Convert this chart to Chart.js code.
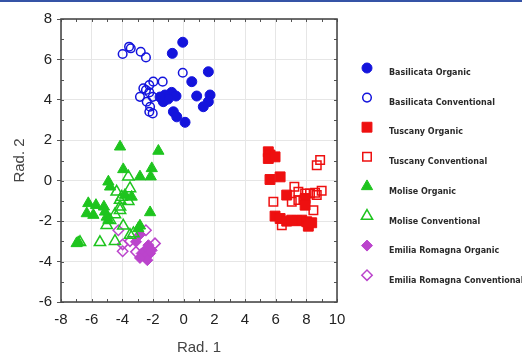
<!DOCTYPE html>
<html>
<head>
<meta charset="utf-8">
<script src="https://cdn.jsdelivr.net/npm/chart.js@4/dist/chart.umd.min.js"></script>
<style>
  html, body { margin: 0; padding: 0; background: #fff; }
  #wrap { position: relative; width: 522px; height: 355px; }
  #topline { position: absolute; left: 0; top: 0; width: 522px; height: 2px; background: #3553a6; }
  canvas { display: block; }
</style>
</head>
<body>
<div id="wrap">
  <canvas id="c" width="522" height="355"></canvas>
  <div id="topline"></div>
</div>
<script>
// ---- data ----
const seriesNames = [
  "Basilicata Organic", "Basilicata Conventional",
  "Tuscany Organic", "Tuscany Conventional",
  "Molise Organic", "Molise Conventional",
  "Emilia Romagna Organic", "Emilia Romagna Conventional"
];

const basOrgX = [-0.06, -0.74, 1.61, 0.53, -0.78, -1.22, -1.33, -0.5, 0.85, 1.72, 1.61, 1.28, -0.67, -0.45, 0.09, -1.02, -1.54];
const basOrgY = [6.85, 6.30, 5.39, 4.90, 4.37, 4.24, 3.91, 4.19, 4.19, 4.24, 3.91, 3.66, 3.41, 3.16, 2.89, 4.04, 4.14];

const basConvX = [-3.98, -3.56, -3.45, -2.80, -2.46, -0.06, -1.37, -1.98, -2.24, -2.63, -2.46, -2.85, -2.24, -2.02, -2.41, -2.19, -2.24, -2.02];
const basConvY = [6.27, 6.63, 6.55, 6.38, 6.10, 5.34, 4.90, 4.90, 4.73, 4.57, 4.49, 4.15, 4.37, 4.15, 3.91, 3.66, 3.41, 3.33];

const tusOrgX = [5.52, 5.63, 5.52, 5.96, 5.63, 6.29, 6.72, 7.92, 7.92, 5.96, 6.29, 6.72, 7.05, 7.38, 7.70, 8.03, 8.13, 8.35];
const tusOrgY = [1.43, 1.27, 1.10, 1.18, 0.06, 0.19, -0.71, -0.88, -1.21, -1.75, -1.87, -2.00, -1.95, -1.98, -1.95, -2.03, -2.25, -2.08];

const tusConvX = [8.90, 8.68, 7.22, 7.48, 7.92, 8.57, 9.00, 8.68, 8.24, 7.05, 7.48, 5.85, 8.46, 6.40, 7.81];
const tusConvY = [1.02, 0.77, -0.30, -0.55, -0.63, -0.60, -0.50, -0.71, -0.63, -1.04, -0.96, -1.04, -1.46, -2.20, -0.96];

const molOrgX = [-4.15, -1.65, -3.94, -2.08, -2.85, -2.15, -4.91, -4.80, -3.83, -3.39, -6.22, -5.72, -5.20, -5.13, -5.89, -6.32, -5.02, -2.19, -4.91, -2.85, -2.96, -6.87, -6.98];
const molOrgY = [1.68, 1.47, 0.56, 0.61, 0.20, 0.20, -0.05, -0.30, -0.71, -0.80, -1.12, -1.21, -1.29, -1.54, -1.70, -1.62, -1.79, -1.57, -1.95, -2.23, -2.36, -3.05, -3.10];

const molConvX = [-3.61, -4.37, -3.50, -4.04, -4.15, -3.61, -4.15, -4.15, -4.48, -4.80, -5.02, -3.94, -3.50, -5.46, -4.48, -3.28, -6.76];
const molConvY = [0.20, -0.55, -0.38, -0.80, -0.96, -1.01, -1.29, -1.46, -1.67, -1.95, -2.20, -2.23, -2.69, -3.05, -2.99, -2.61, -3.05];

const emiOrgX = [-2.85, -3.11, -2.30, -2.52, -2.74, -2.19, -2.52, -2.37, -2.85, -2.08];
const emiOrgY = [-2.66, -3.02, -3.19, -3.44, -3.60, -3.60, -3.77, -3.93, -3.82, -3.44];

const emiConvX = [-4.26, -2.46, -3.50, -3.98, -3.98, -3.11, -1.87];
const emiConvY = [-2.45, -2.45, -2.99, -3.15, -3.49, -3.52, -3.10];

const xAxisTitle = "Rad. 1";
const yAxisTitle = "Rad. 2";

// ---- build chart ----
const BLUE = '#1414dc', RED = '#ee1010', GREEN = '#1ec41e', PURPLE = '#bb44cc';
function pts(xs, ys) { return xs.map((x, i) => ({ x: x, y: ys[i] })); }

const seriesData = [
  [basOrgX, basOrgY], [basConvX, basConvY],
  [tusOrgX, tusOrgY], [tusConvX, tusConvY],
  [molOrgX, molOrgY], [molConvX, molConvY],
  [emiOrgX, emiOrgY], [emiConvX, emiConvY]
];
const styles = [
  { c: BLUE, s: 'circle', r: 5, fill: true },
  { c: BLUE, s: 'circle', r: 4.3, fill: false },
  { c: RED, s: 'rect', r: 7, fill: true },
  { c: RED, s: 'rect', r: 6, fill: false },
  { c: GREEN, s: 'triangle', r: 6.5, fill: true },
  { c: GREEN, s: 'triangle', r: 6.5, fill: false },
  { c: PURPLE, s: 'rectRot', r: 5.5, fill: true },
  { c: PURPLE, s: 'rectRot', r: 5.2, fill: false }
];

const datasets = seriesNames.map((name, i) => ({
  label: name,
  data: pts(seriesData[i][0], seriesData[i][1]),
  pointStyle: styles[i].s,
  pointRadius: styles[i].r,
  pointHoverRadius: styles[i].r,
  backgroundColor: styles[i].fill ? styles[i].c : 'rgba(255,255,255,0)',
  borderColor: styles[i].c,
  pointBorderWidth: styles[i].fill ? 1 : 1.5,
  showLine: false
}));

const frameAndLegend = {
  id: 'frameAndLegend',
  beforeDatasetsDraw(chart) {
    const ctx = chart.ctx, a = chart.chartArea;
    const xs = chart.scales.x, ys = chart.scales.y;
    ctx.save();
    ctx.strokeStyle = '#555';
    ctx.lineWidth = 1;
    // minor ticks every unit, inward
    for (let v = xs.min; v <= xs.max; v++) {
      const px = Math.round(xs.getPixelForValue(v)) + 0.5;
      ctx.beginPath();
      ctx.moveTo(px, a.top); ctx.lineTo(px, a.top + 3);
      ctx.moveTo(px, a.bottom); ctx.lineTo(px, a.bottom - 3);
      ctx.stroke();
    }
    for (let v = ys.min; v <= ys.max; v++) {
      const py = Math.round(ys.getPixelForValue(v)) + 0.5;
      ctx.beginPath();
      ctx.moveTo(a.left, py); ctx.lineTo(a.left + 3, py);
      ctx.moveTo(a.right, py); ctx.lineTo(a.right - 3, py);
      ctx.stroke();
    }
    ctx.lineWidth = 1.6;
    ctx.strokeStyle = '#4a4a4a';
    ctx.strokeRect(a.left, a.top, a.right - a.left, a.bottom - a.top);
    ctx.restore();
  },
  afterDraw(chart) {
    const ctx = chart.ctx;
    ctx.save();
    chart.data.datasets.forEach((ds, i) => {
      const mx = 367, my = 68 + i * 29.6;
      const ty = 73 + i * 29.7;
      ctx.fillStyle = ds.backgroundColor;
      ctx.strokeStyle = ds.borderColor;
      ctx.lineWidth = ds.pointBorderWidth;
      Chart.helpers.drawPoint(ctx, { pointStyle: ds.pointStyle, rotation: 0, radius: ds.pointRadius, borderWidth: ds.pointBorderWidth }, mx, my);
      ctx.fillStyle = '#2a2a2a';
      ctx.font = 'bold 8px "DejaVu Sans"';
      ctx.textBaseline = 'middle';
      ctx.textAlign = 'left';
      ctx.fillText(ds.label, 389, ty);
    });
    ctx.restore();
  }
};

new Chart(document.getElementById('c'), {
  type: 'scatter',
  data: { datasets: datasets },
  options: {
    responsive: false,
    animation: false,
    events: [],
    layout: { padding: { left: 8, top: 19, right: 185, bottom: 0 } },
    plugins: { legend: { display: false }, tooltip: { enabled: false } },
    scales: {
      x: {
        type: 'linear', min: -8, max: 10,
        ticks: { stepSize: 2, color: '#222', font: { family: '"Liberation Sans", Arial', size: 15 }, padding: 9 },
        grid: { color: '#e6e6e6', drawTicks: false },
        border: { display: false },
        title: { display: true, text: xAxisTitle, color: '#444', font: { family: '"Liberation Sans", Arial', size: 15, lineHeight: 1 }, padding: { top: 0, bottom: 0 } },
        afterFit(s) { s.height = 53; }
      },
      y: {
        type: 'linear', min: -6, max: 8,
        ticks: { stepSize: 2, color: '#222', font: { family: '"Liberation Sans", Arial', size: 15 }, padding: 5 },
        grid: { color: '#e6e6e6', drawTicks: true, tickLength: 4, tickColor: '#555' },
        border: { display: false },
        title: { display: true, text: yAxisTitle, color: '#444', font: { family: '"Liberation Sans", Arial', size: 15, lineHeight: 1 }, padding: { top: 4, bottom: 0 } },
        afterFit(s) { s.width = 53; }
      }
    }
  },
  plugins: [frameAndLegend]
});
</script>
</body>
</html>
